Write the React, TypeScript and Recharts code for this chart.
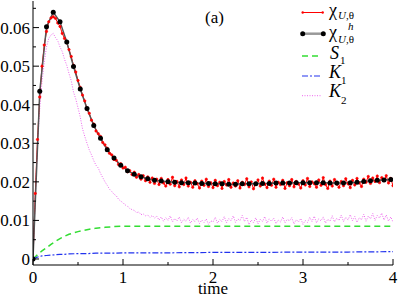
import React from 'react';
import { LineChart, Line, XAxis, YAxis } from 'recharts';

// sampling step of the noisy series (time units)
const STEP = 0.025;
const HSTEP = 0.075;

// chi_{U,theta}: simulated, noisy (red)
const chiU = [
  0, 0.017, 0.031, 0.042, 0.050, 0.0555, 0.059, 0.0615, 0.0625, 0.0628,
  0.0624, 0.0612, 0.0603, 0.0585, 0.0572, 0.0561, 0.0543, 0.0525, 0.0502, 0.0485,
  0.0463, 0.0445, 0.0425, 0.0410, 0.0388, 0.0378, 0.0360, 0.0350, 0.0332, 0.0325,
  0.0318, 0.0302, 0.0296, 0.0287, 0.0274, 0.0270, 0.0258, 0.0256, 0.0245, 0.0247,
  0.0236, 0.0238, 0.0226, 0.0229, 0.0219, 0.0225, 0.0212, 0.0219, 0.0207, 0.0216,
  0.0203, 0.0213, 0.0199, 0.0210, 0.0196, 0.0207, 0.0193, 0.0209, 0.0197, 0.0189,
  0.0206, 0.0194, 0.0212, 0.0190, 0.0201, 0.0187, 0.0205, 0.0193, 0.0210, 0.0189,
  0.0199, 0.0186, 0.0203, 0.0195, 0.0184, 0.0202, 0.0191, 0.0207, 0.0188, 0.0198,
  0.0185, 0.0204, 0.0190, 0.0199, 0.0183, 0.0201, 0.0192, 0.0206, 0.0186, 0.0197,
  0.0189, 0.0203, 0.0184, 0.0199, 0.0193, 0.0208, 0.0187, 0.0200, 0.0182, 0.0196,
  0.0205, 0.0189, 0.0210, 0.0194, 0.0185, 0.0202, 0.0191, 0.0207, 0.0186, 0.0199,
  0.0193, 0.0204, 0.0183, 0.0198, 0.0190, 0.0206, 0.0187, 0.0201, 0.0194, 0.0184,
  0.0203, 0.0192, 0.0209, 0.0188, 0.0200, 0.0195, 0.0186, 0.0205, 0.0191, 0.0211,
  0.0193, 0.0183, 0.0202, 0.0189, 0.0206, 0.0194, 0.0186, 0.0201, 0.0190, 0.0208,
  0.0195, 0.0185, 0.0204, 0.0192, 0.0209, 0.0197, 0.0188, 0.0207, 0.0199, 0.0214,
  0.0196, 0.0210, 0.0201, 0.0215, 0.0198, 0.0211, 0.0203, 0.0216, 0.0197, 0.0209,
  0.0190,
];

// chi^h_{U,theta}: black dots
const chiH = [
  0, 0.0435, 0.0602, 0.0640, 0.0615, 0.0563, 0.0499, 0.0441, 0.0390, 0.0346,
  0.0313, 0.0283, 0.0262, 0.0243, 0.0229, 0.0220, 0.0213, 0.0208, 0.0204, 0.0202,
  0.0200, 0.0199, 0.0198, 0.0198, 0.0197, 0.0196, 0.0196, 0.0195, 0.0195, 0.0194,
  0.0194, 0.0195, 0.0195, 0.0195, 0.0196, 0.0196, 0.0197, 0.0197, 0.0197, 0.0198,
  0.0198, 0.0198, 0.0198, 0.0198, 0.0197, 0.0197, 0.0197, 0.0198, 0.0199, 0.0201,
  0.0203, 0.0204, 0.0205, 0.0206,
];

// K2: dotted violet, noisy
const k2 = [
  0, 0.016, 0.029, 0.039, 0.046, 0.051, 0.055, 0.0572, 0.0581, 0.0585,
  0.0574, 0.0566, 0.0550, 0.0538, 0.0518, 0.0502, 0.0481, 0.0462, 0.0433, 0.0415,
  0.0392, 0.0368, 0.0338, 0.0318, 0.0300, 0.0283, 0.0270, 0.0255, 0.0243, 0.0236,
  0.0222, 0.0211, 0.0200, 0.0191, 0.0181, 0.0175, 0.0168, 0.0164, 0.0155, 0.0150,
  0.0146, 0.0140, 0.0137, 0.0131, 0.0128, 0.0126, 0.0120, 0.0122, 0.0115, 0.0117,
  0.0112, 0.0114, 0.0108, 0.0113, 0.0106, 0.0111, 0.0101, 0.0109, 0.0098, 0.0107,
  0.0100, 0.0112, 0.0096, 0.0105, 0.0099, 0.0109, 0.0094, 0.0103, 0.0098, 0.0108,
  0.0093, 0.0102, 0.0097, 0.0106, 0.0092, 0.0101, 0.0095, 0.0104, 0.0090, 0.0099,
  0.0096, 0.0108, 0.0093, 0.0102, 0.0097, 0.0110, 0.0094, 0.0105, 0.0099, 0.0112,
  0.0095, 0.0104, 0.0100, 0.0113, 0.0097, 0.0108, 0.0089, 0.0101, 0.0094, 0.0107,
  0.0091, 0.0103, 0.0097, 0.0110, 0.0093, 0.0104, 0.0098, 0.0106, 0.0092, 0.0101,
  0.0096, 0.0109, 0.0094, 0.0103, 0.0099, 0.0107, 0.0091, 0.0102, 0.0096, 0.0105,
  0.0090, 0.0100, 0.0095, 0.0108, 0.0097, 0.0111, 0.0094, 0.0104, 0.0099, 0.0109,
  0.0093, 0.0103, 0.0098, 0.0112, 0.0096, 0.0106, 0.0100, 0.0114, 0.0097, 0.0108,
  0.0101, 0.0115, 0.0099, 0.0110, 0.0095, 0.0107, 0.0102, 0.0116, 0.0098, 0.0111,
  0.0104, 0.0118, 0.0100, 0.0113, 0.0106, 0.0119, 0.0101, 0.0114, 0.0098, 0.0109,
  0.0096,
];

// S1 and K1: smooth curves
const smoothT = [0, 0.05, 0.1, 0.15, 0.2, 0.25, 0.3, 0.35, 0.4, 0.5, 0.6, 0.7, 0.8, 0.9, 1.0, 1.2, 1.5, 2.0, 2.5, 3.0, 3.5, 4.0];
const s1 = [0, 0.0011, 0.0021, 0.0029, 0.0038, 0.0046, 0.0053, 0.0059, 0.0064, 0.0071, 0.0076, 0.0080, 0.0082, 0.0084, 0.0085, 0.0085, 0.0085, 0.0085, 0.0085, 0.0085, 0.0085, 0.0085];
const k1 = [0, 0.0005, 0.0008, 0.0009, 0.0010, 0.0011, 0.0012, 0.0012, 0.0013, 0.0014, 0.0014, 0.0015, 0.0015, 0.0015, 0.0016, 0.0016, 0.0016, 0.0017, 0.0017, 0.0018, 0.0018, 0.0019];

const xTicks = [0, 0.5, 1, 1.5, 2, 2.5, 3, 3.5, 4];
const yTicks = [0, 0.005, 0.01, 0.015, 0.02, 0.025, 0.03, 0.035, 0.04, 0.045, 0.05, 0.055, 0.06, 0.065];

const redData = chiU.map((v, i) => ({ t: i * STEP, v }));
const blackData = chiH.map((v, i) => ({ t: i * HSTEP, v }));
const k2Data = k2.map((v, i) => ({ t: i * STEP, v }));
const s1Data = smoothT.map((t, i) => ({ t, v: s1[i] }));
const k1Data = smoothT.map((t, i) => ({ t, v: k1[i] }));

const FONT = "'Liberation Serif', 'Times New Roman', serif";

const isMajorX = (v: number) => Number.isInteger(v);
const isMajorY = (v: number) => Math.round(v * 1000) % 10 === 0;
const fmtY = (v: number) => (v === 0 ? '0' : v.toFixed(2));

const BottomTick = ({ x, y, payload }: any) => {
  const major = isMajorX(payload.value);
  return (
    <g>
      <line x1={x} x2={x} y1={y} y2={y - (major ? 6 : 3)} stroke="#000" />
      {major && (
        <text x={x} y={y + 18} textAnchor="middle" style={{ fontSize: 17, fontFamily: FONT }} fill="#000">
          {payload.value}
        </text>
      )}
    </g>
  );
};

const TopTick = ({ x, y, payload }: any) => {
  const major = isMajorX(payload.value);
  return <line x1={x} x2={x} y1={y} y2={y + (major ? 6 : 3)} stroke="#000" />;
};

const LeftTick = ({ x, y, payload }: any) => {
  const major = isMajorY(payload.value);
  return (
    <g>
      <line x1={x} x2={x + (major ? 6 : 3)} y1={y} y2={y} stroke="#000" />
      {major && (
        <text x={x - 3} y={y + 6} textAnchor="end" style={{ fontSize: 17, fontFamily: FONT }} fill="#000">
          {fmtY(payload.value)}
        </text>
      )}
    </g>
  );
};

const RightTick = ({ x, y, payload }: any) => {
  const major = isMajorY(payload.value);
  return <line x1={x} x2={x - (major ? 6 : 3)} y1={y} y2={y} stroke="#000" />;
};

const TimeLabel = ({ viewBox }: any) => (
  <text x={viewBox.x + viewBox.width / 2} y={viewBox.y + 29} textAnchor="middle" style={{ fontSize: 17, fontFamily: FONT }} fill="#000">
    time
  </text>
);

const LegendOverlay = () => (
  <svg width={399} height={297} style={{ position: 'absolute', left: 0, top: 0, pointerEvents: 'none', fontFamily: FONT }}>
    <text x={205} y={23} style={{ fontSize: 17, fontFamily: FONT }}>(a)</text>

    <line x1={302} x2={323} y1={12.5} y2={12.5} stroke="#ff0000" />
    <circle cx={302.7} cy={12.5} r={1.2} fill="#ff0000" />
    <circle cx={322.7} cy={12.5} r={1.2} fill="#ff0000" />
    <text x={329} y={16} style={{ fontSize: 18, fontFamily: FONT }}>χ</text>
    <text x={338} y={19} style={{ fontSize: 11, fontFamily: FONT }}><tspan fontStyle="italic">U</tspan>,θ</text>

    <line x1={302} x2={323} y1={33.7} y2={33.7} stroke="#999" strokeWidth={2.5} />
    <circle cx={302.7} cy={33.7} r={2.5} fill="#000" />
    <circle cx={323.3} cy={33.7} r={2.5} fill="#000" />
    <text x={329} y={38} style={{ fontSize: 18, fontFamily: FONT }}>χ</text>
    <text x={348} y={30} style={{ fontSize: 11, fontFamily: FONT, fontStyle: 'italic' }}>h</text>
    <text x={338} y={43} style={{ fontSize: 11, fontFamily: FONT }}><tspan fontStyle="italic">U</tspan>,θ</text>

    <line x1={302} x2={320} y1={56} y2={56} stroke="#33dd33" strokeWidth={1.5} strokeDasharray="6 4" />
    <text x={330} y={59} style={{ fontSize: 18, fontFamily: FONT, fontStyle: 'italic' }}>S</text>
    <text x={340} y={64} style={{ fontSize: 11, fontFamily: FONT }}>1</text>

    <line x1={302} x2={322} y1={76} y2={76} stroke="#2233ee" strokeWidth={1.2} strokeDasharray="6 2 2 2" />
    <text x={329} y={78} style={{ fontSize: 18, fontFamily: FONT, fontStyle: 'italic' }}>K</text>
    <text x={341} y={84} style={{ fontSize: 11, fontFamily: FONT }}>1</text>

    <line x1={302} x2={322} y1={95.7} y2={95.7} stroke="#ee66ee" strokeWidth={1} strokeDasharray="1 1.5" />
    <text x={329} y={97} style={{ fontSize: 18, fontFamily: FONT, fontStyle: 'italic' }}>K</text>
    <text x={341} y={104} style={{ fontSize: 11, fontFamily: FONT }}>2</text>
  </svg>
);

export default function App() {
  return (
    <div style={{ position: 'absolute', left: 0, top: 0, width: 399, height: 297, background: '#fff', fontFamily: FONT }}>
      <LineChart width={399} height={297} margin={{ top: 1, right: 6, bottom: 0, left: 0 }}>
        <XAxis
          type="number"
          dataKey="t"
          domain={[0, 4]}
          ticks={xTicks}
          interval={0}
          height={32}
          tickSize={0}
          tickMargin={0}
          tickLine={false}
          tick={<BottomTick />}
          axisLine={{ stroke: '#000' }}
          allowDataOverflow
          label={<TimeLabel />}
        />
        <XAxis
          xAxisId="top"
          orientation="top"
          type="number"
          dataKey="t"
          domain={[0, 4]}
          ticks={xTicks}
          interval={0}
          height={0}
          tickSize={0}
          tickMargin={0}
          tickLine={false}
          tick={<TopTick />}
          axisLine={{ stroke: '#000' }}
          allowDataOverflow
        />
        <YAxis
          type="number"
          domain={[-0.00156, 0.0669]}
          ticks={yTicks}
          interval={0}
          width={33}
          tickSize={0}
          tickMargin={0}
          tickLine={false}
          tick={<LeftTick />}
          axisLine={{ stroke: '#000' }}
          allowDataOverflow
        />
        <YAxis
          yAxisId="right"
          orientation="right"
          type="number"
          domain={[-0.00156, 0.0669]}
          ticks={yTicks}
          interval={0}
          width={0}
          tickSize={0}
          tickMargin={0}
          tickLine={false}
          tick={<RightTick />}
          axisLine={{ stroke: '#000' }}
          allowDataOverflow
        />
        <Line data={s1Data} dataKey="v" type="linear" stroke="#33dd33" strokeWidth={1.5} strokeDasharray="6 4" dot={false} isAnimationActive={false} />
        <Line data={k1Data} dataKey="v" type="linear" stroke="#2233ee" strokeWidth={1.2} strokeDasharray="6 2 2 2" dot={false} isAnimationActive={false} />
        <Line data={k2Data} dataKey="v" type="linear" stroke="#ee66ee" strokeWidth={1} strokeDasharray="1 1.5" dot={false} isAnimationActive={false} />
        <Line data={redData} dataKey="v" type="linear" stroke="#ff0000" strokeWidth={1} dot={{ r: 1.2, fill: '#ff0000', stroke: '#ff0000', strokeWidth: 0.6 }} isAnimationActive={false} />
        <Line data={blackData} dataKey="v" type="linear" stroke="#555" strokeWidth={1.5} dot={{ r: 2.5, fill: '#000', stroke: '#000', strokeWidth: 0 }} isAnimationActive={false} />
      </LineChart>
      <LegendOverlay />
    </div>
  );
}
